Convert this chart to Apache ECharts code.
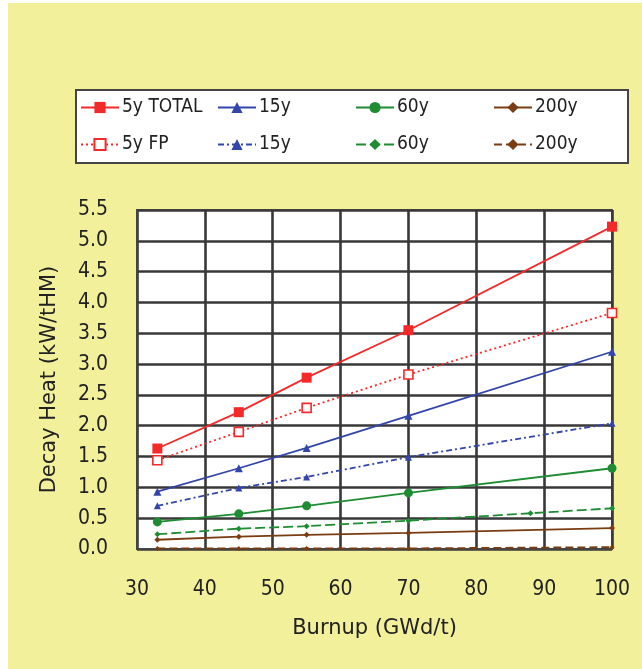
<!DOCTYPE html>
<html>
<head>
<meta charset="utf-8">
<script src="https://cdn.jsdelivr.net/npm/echarts@6/dist/echarts.min.js"></script>
<style>
html,body{margin:0;padding:0;background:#fff;}
#chart{width:642px;height:669px;}
</style>
</head>
<body>
<div id="chart"></div>
<script>
// ---- data ----
const burnup = [33, 45, 55, 70, 100];
const total5y = [1.63, 2.22, 2.78, 3.55, 5.23];
const fp5y = [1.44, 1.90, 2.29, 2.83, 3.83];
const total15y = [0.93, 1.31, 1.64, 2.16, 3.20];
const fp15y = [0.70, 0.99, 1.17, 1.49, 2.04];
const total60y = [0.44, 0.57, 0.70, 0.91, 1.31];
const fp60yBurnup = [33, 45, 55, 70, 88, 100];
const fp60y = [0.24, 0.33, 0.37, 0.46, 0.58, 0.66];
const total200y = [0.15, 0.20, 0.23, 0.26, 0.34];
const fp200y = [0.01, 0.01, 0.01, 0.01, 0.03];
const xTicks = [30, 40, 50, 60, 70, 80, 90, 100];
const yTicks = [0, 0.5, 1, 1.5, 2, 2.5, 3, 3.5, 4, 4.5, 5, 5.5];

const RED = '#f42a2a', BLUE = '#3344aa', GREEN = '#1e8c32', BROWN = '#7a3c12';
const FONT = "'DejaVu Sans Condensed', 'Liberation Sans Narrow', 'DejaVu Sans', sans-serif";
const NAMEFONT = "'DejaVu Sans', sans-serif";

function pairs(xs, ys) { return xs.map((x, i) => [x, ys[i]]); }

function mk(name, xs, ys, color, lineType, symbol, size, hollow) {
  return {
    name: name, type: 'line', data: pairs(xs, ys),
    symbol: symbol, symbolSize: size, showAllSymbol: true,
    lineStyle: { color: color, width: 1.8, type: lineType },
    itemStyle: { color: hollow ? '#fff' : color, borderColor: color, borderWidth: hollow ? 1.6 : 0 },
    z: 5
  };
}

const series = [
  mk('5y TOTAL', burnup, total5y, RED, 'solid', 'rect', 10, false),
  mk('15y TOTAL', burnup, total15y, BLUE, 'solid', 'triangle', 8, false),
  mk('60y TOTAL', burnup, total60y, GREEN, 'solid', 'circle', 9, false),
  mk('200y TOTAL', burnup, total200y, BROWN, 'solid', 'diamond', 6, false),
  mk('5y FP', burnup, fp5y, RED, [2, 3], 'rect', 9, true),
  mk('15y FP', burnup, fp15y, BLUE, [6, 3, 2, 3], 'triangle', 7, false),
  mk('60y FP', fp60yBurnup, fp60y, GREEN, [10, 4], 'diamond', 6, false),
  mk('200y FP', burnup, fp200y, BROWN, [8, 4], 'diamond', 5, false)
];

const legendPos = [
  ['5y TOTAL', 80, 98, '5y TOTAL'],
  ['15y TOTAL', 217, 98, '15y'],
  ['60y TOTAL', 355, 98, '60y'],
  ['200y TOTAL', 493, 98, '200y'],
  ['5y FP', 80, 135, '5y FP'],
  ['15y FP', 217, 135, '15y'],
  ['60y FP', 355, 135, '60y'],
  ['200y FP', 493, 135, '200y']
];

const legends = legendPos.map(p => ({
  data: [p[0]], left: p[1], top: p[2], padding: 0,
  itemWidth: 38, itemHeight: 14, itemGap: 0,
  formatter: p[3], selectedMode: false,
  textStyle: { fontSize: 19, color: '#222', fontFamily: FONT, padding: [0, 0, 0, -2] }
}));

const option = {
  backgroundColor: '#f3f09c',
  animation: false,
  graphic: [
    { type: 'rect', shape: { x: 0, y: 0, width: 8, height: 669 }, style: { fill: '#fff' }, z: -10 },
    { type: 'rect', shape: { x: 0, y: 0, width: 642, height: 3 }, style: { fill: '#fff' }, z: -10 },
    { type: 'rect', shape: { x: 76, y: 90, width: 552, height: 73 }, style: { fill: '#fff', stroke: '#444', lineWidth: 2 }, z: -5 }
  ],
  legend: legends,
  grid: {
    left: 137, right: 30, top: 210, bottom: 120,
    show: true, backgroundColor: '#fff', borderColor: '#555', borderWidth: 2
  },
  xAxis: {
    type: 'value', min: xTicks[0], max: xTicks[xTicks.length - 1], interval: 10,
    name: 'Burnup (GWd/t)', nameLocation: 'middle', nameGap: 69,
    nameTextStyle: { fontSize: 21, color: '#222', fontFamily: NAMEFONT },
    axisLine: { show: true, lineStyle: { color: '#444', width: 2 } },
    axisTick: { show: false },
    axisLabel: { fontSize: 21, color: '#222', fontFamily: FONT, margin: 30 },
    splitLine: { show: true, lineStyle: { color: '#383838', width: 2.6 } }
  },
  yAxis: {
    type: 'value', min: yTicks[0], max: yTicks[yTicks.length - 1], interval: 0.5,
    name: 'Decay Heat (kW/tHM)', nameLocation: 'middle', nameGap: 77, nameRotate: 90,
    nameTextStyle: { fontSize: 21, color: '#222', fontFamily: NAMEFONT },
    axisLine: { show: true, lineStyle: { color: '#444', width: 2 } },
    axisTick: { show: false },
    axisLabel: { fontSize: 21, color: '#222', fontFamily: FONT, margin: 29, formatter: v => v.toFixed(1) },
    splitLine: { show: true, lineStyle: { color: '#383838', width: 2.6 } }
  },
  series: series
};

const chart = echarts.init(document.getElementById('chart'), null, { renderer: 'canvas' });
chart.setOption(option);
</script>
</body>
</html>
